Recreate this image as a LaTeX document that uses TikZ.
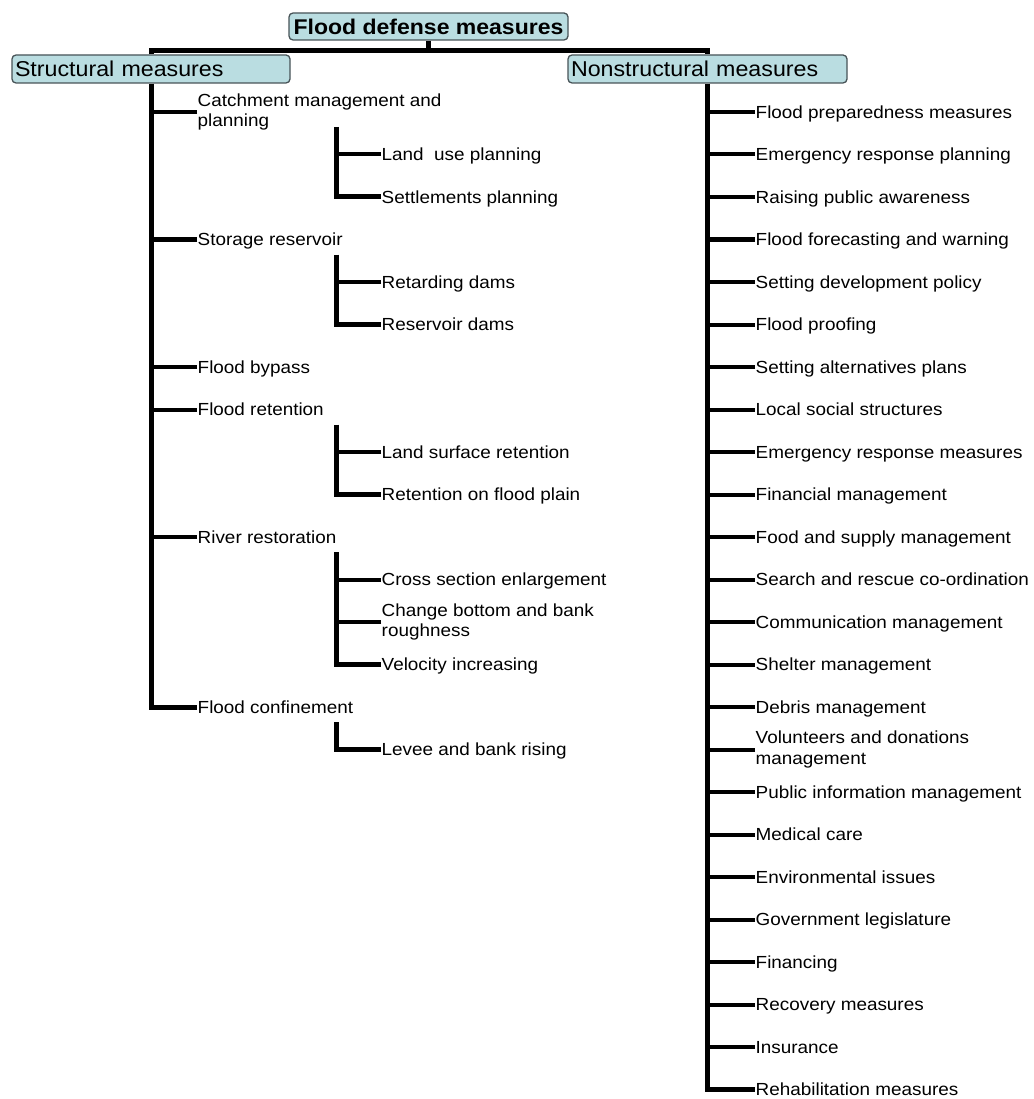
\documentclass[tikz,border=0pt]{standalone}
\usepackage{fontspec}
\setmainfont{Liberation Sans}[FakeStretch=1.08]
\usepackage{xcolor}
\usetikzlibrary{calc}

\definecolor{boxFill}{RGB}{186,221,225}
\definecolor{boxLine}{RGB}{72,84,88}

% row positions (px, downwards)
\newcommand{\rowy}[1]{112+42.5*#1}

\begin{document}
\begin{tikzpicture}[
  x=1pt, y=-1pt,
  hBox/.style={rectangle, rounded corners=4pt,
    draw=boxLine, fill=boxFill, line width=1.3pt,
    minimum height=28pt, inner xsep=3pt, inner ysep=0pt,
    font=\fontsize{21.5}{24}\selectfont},
  itm/.style={anchor=west, inner sep=0.5pt,
    text height=12.6pt, text depth=0pt,
    font=\fontsize{17.5}{20.5}\selectfont},
  itmTwo/.style={anchor=west, inner sep=0.5pt, align=left,
    font=\fontsize{17.5}{20.5}\selectfont},
  trunk/.style={line width=5pt, line join=miter},
  branch/.style={line width=4pt},
]
  \useasboundingbox[fill=white] (0,0) rectangle (1033,1099);

  %% -- Heads -------------------------------------------------------
  \node[hBox, minimum width=279pt, minimum height=27pt,
    font=\fontsize{21.3}{24}\selectfont\bfseries] (top) at (428.5,26.5)
    {Flood defense measures};
  \node[hBox, minimum width=278pt, text width=272pt, align=left]
    (str) at (151,69) {Structural measures};
  \node[hBox, minimum width=279pt, text width=273pt, align=left]
    (nonstr) at (707.5,69) {Nonstructural measures};

  \coordinate (bar) at ($(top.south)+(0,9.5)$);
  \draw[trunk] (top.south) -- (bar);
  \draw[trunk] (str.north) |- (bar) -| (nonstr.north);

  %% -- Structural measures -----------------------------------------
  \node[itmTwo] (cm) at (197,{\rowy{0}}) {Catchment management and\\planning};
  \node[itm] (lu) at (381,{\rowy{1}}) {Land\ \ use planning};
  \node[itm] (sp) at (381,{\rowy{2}}) {Settlements planning};
  \node[itm] (sr) at (197,{\rowy{3}}) {Storage reservoir};
  \node[itm] (rd) at (381,{\rowy{4}}) {Retarding dams};
  \node[itm] (rv) at (381,{\rowy{5}}) {Reservoir dams};
  \node[itm] (fb) at (197,{\rowy{6}}) {Flood bypass};
  \node[itm] (fr) at (197,{\rowy{7}}) {Flood retention};
  \node[itm] (ls) at (381,{\rowy{8}}) {Land surface retention};
  \node[itm] (rp) at (381,{\rowy{9}}) {Retention on flood plain};
  \node[itm] (rr) at (197,{\rowy{10}}) {River restoration};
  \node[itm] (cs) at (381,{\rowy{11}}) {Cross section enlargement};
  \node[itmTwo] (cb) at (381,{\rowy{12}}) {Change bottom and bank\\roughness};
  \node[itm] (vi) at (381,{\rowy{13}}) {Velocity increasing};
  \node[itm] (fc) at (197,{\rowy{14}}) {Flood confinement};
  \node[itm] (lb) at (381,{\rowy{15}}) {Levee and bank rising};

  \draw[trunk] (str.south) |- (fc.west);
  \foreach \n in {cm,sr,fb,fr,rr}
    \draw[branch] (\n.west) -- (\n.west -| str.south);

  % sub-trunks
  \coordinate (t1) at ($(cm.west)+(139,15)$);
  \coordinate (t2) at ($(sr.west)+(139,15)$);
  \coordinate (t3) at ($(fr.west)+(139,15)$);
  \coordinate (t4) at ($(rr.west)+(139,15)$);
  \coordinate (t5) at ($(fc.west)+(139,15)$);
  \draw[trunk] (t1) |- (sp.west);
  \draw[trunk] (t2) |- (rv.west);
  \draw[trunk] (t3) |- (rp.west);
  \draw[trunk] (t4) |- (vi.west);
  \draw[trunk] (t5) |- (lb.west);
  \draw[branch] (lu.west) -- (lu.west -| t1);
  \draw[branch] (rd.west) -- (rd.west -| t2);
  \draw[branch] (ls.west) -- (ls.west -| t3);
  \draw[branch] (cs.west) -- (cs.west -| t4);
  \draw[branch] (cb.west) -- (cb.west -| t4);

  %% -- Nonstructural measures --------------------------------------
  \foreach \i/\txt in {0/Flood preparedness measures,
      1/Emergency response planning, 2/Raising public awareness,
      3/Flood forecasting and warning, 4/Setting development policy,
      5/Flood proofing, 6/Setting alternatives plans,
      7/Local social structures, 8/Emergency response measures,
      9/Financial management, 10/Food and supply management,
      11/Search and rescue co-ordination, 12/Communication management,
      13/Shelter management, 14/Debris management,
      16/Public information management, 17/Medical care,
      18/Environmental issues, 19/Government legislature,
      20/Financing, 21/Recovery measures, 22/Insurance,
      23/Rehabilitation measures}
    \node[itm] (n\i) at (755,{\rowy{\i}}) {\txt};
  \node[itmTwo] (n15) at (755,{\rowy{15}}) {Volunteers and donations\\management};

  \draw[trunk] (nonstr.south) |- (n23.west);
  \foreach \i in {0,...,22}
    \draw[branch] (n\i.west) -- (n\i.west -| nonstr.south);

\end{tikzpicture}
\end{document}
